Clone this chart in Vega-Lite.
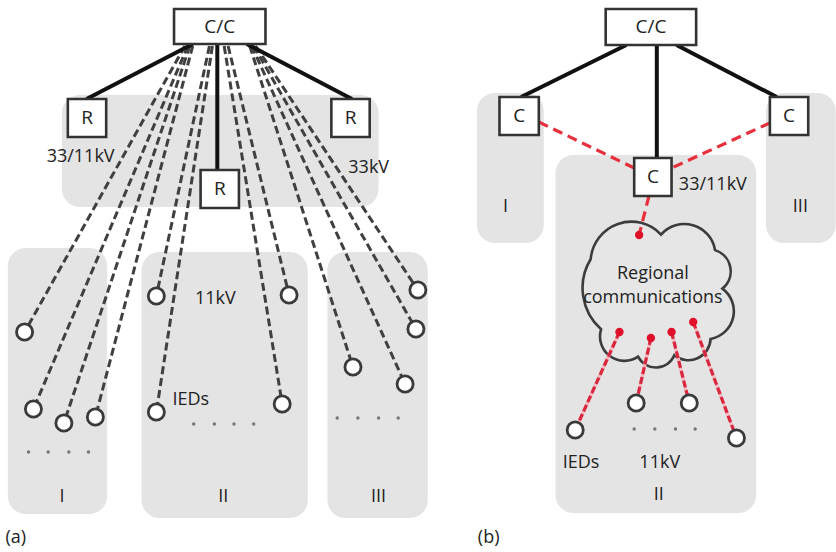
{
  "$schema": "https://vega.github.io/schema/vega-lite/v6.json",
  "width": 836,
  "height": 552,
  "padding": 0,
  "autosize": {"type": "fit", "contains": "padding"},
  "background": "white",
  "config": {"view": {"stroke": null}},
  "datasets": {
    "regions": [
      {"x": 63, "x2": 385, "y": 95, "y2": 207},
      {"x": 8, "x2": 109, "y": 248, "y2": 514},
      {"x": 144, "x2": 313, "y": 252, "y2": 518},
      {"x": 333, "x2": 435, "y": 252, "y2": 518},
      {"x": 485, "x2": 553, "y": 93, "y2": 243},
      {"x": 565, "x2": 769, "y": 155, "y2": 513},
      {"x": 779, "x2": 850, "y": 93, "y2": 243}
    ],
    "cloud": [{"x": 665.5, "y": 296}],
    "solid": [
      {"x": 196, "y": 44, "x2": 88, "y2": 99},
      {"x": 221, "y": 44, "x2": 221, "y2": 170},
      {"x": 251, "y": 44, "x2": 358, "y2": 99},
      {"x": 637, "y": 45, "x2": 530, "y2": 97},
      {"x": 668, "y": 45, "x2": 668, "y2": 158},
      {"x": 688, "y": 45, "x2": 790, "y2": 97}
    ],
    "graydash": [
      {"x": 188, "y": 46, "x2": 25, "y2": 332},
      {"x": 191, "y": 46, "x2": 34, "y2": 409},
      {"x": 193, "y": 46, "x2": 65, "y2": 423},
      {"x": 196, "y": 46, "x2": 97, "y2": 417},
      {"x": 213, "y": 46, "x2": 159, "y2": 296},
      {"x": 216, "y": 46, "x2": 159, "y2": 412},
      {"x": 228, "y": 46, "x2": 287, "y2": 404},
      {"x": 232, "y": 46, "x2": 294, "y2": 295},
      {"x": 254, "y": 46, "x2": 359, "y2": 367},
      {"x": 256, "y": 46, "x2": 412, "y2": 384},
      {"x": 258, "y": 46, "x2": 423, "y2": 329},
      {"x": 260, "y": 46, "x2": 425, "y2": 290}
    ],
    "reddash": [
      {"x": 548, "y": 122, "x2": 645, "y2": 168},
      {"x": 783, "y": 123, "x2": 683, "y2": 168},
      {"x": 660, "y": 196, "x2": 650, "y2": 235}
    ],
    "pinkdash": [
      {"x": 630, "y": 332, "x2": 585, "y2": 430},
      {"x": 662, "y": 338, "x2": 647, "y2": 403},
      {"x": 683, "y": 332, "x2": 701, "y2": 403},
      {"x": 705, "y": 322, "x2": 749, "y2": 438}
    ],
    "reddots": [
      {"x": 650, "y": 235},
      {"x": 630, "y": 332},
      {"x": 662, "y": 338},
      {"x": 683, "y": 332},
      {"x": 705, "y": 322}
    ],
    "ieds": [
      {"x": 25, "y": 332}, {"x": 34, "y": 409}, {"x": 65, "y": 423}, {"x": 97, "y": 417},
      {"x": 159, "y": 296}, {"x": 159, "y": 412}, {"x": 294, "y": 295}, {"x": 287, "y": 404},
      {"x": 359, "y": 367}, {"x": 412, "y": 384}, {"x": 423, "y": 329}, {"x": 425, "y": 290},
      {"x": 585, "y": 430}, {"x": 647, "y": 403}, {"x": 701, "y": 403}, {"x": 749, "y": 438}
    ],
    "ellipsis": [
      {"x": 29, "y": 452}, {"x": 49, "y": 452}, {"x": 70, "y": 452}, {"x": 90, "y": 452},
      {"x": 197, "y": 424}, {"x": 218, "y": 424}, {"x": 238, "y": 424}, {"x": 258, "y": 424},
      {"x": 343, "y": 418}, {"x": 364, "y": 418}, {"x": 385, "y": 418}, {"x": 405, "y": 418},
      {"x": 645, "y": 429}, {"x": 666, "y": 429}, {"x": 687, "y": 429}, {"x": 707, "y": 429}
    ],
    "boxes": [
      {"x": 177, "x2": 270, "y": 9, "y2": 44, "cx": 223.5, "cy": 27, "label": "C/C"},
      {"x": 69, "x2": 108, "y": 99, "y2": 137, "cx": 88.5, "cy": 118, "label": "R"},
      {"x": 204, "x2": 243, "y": 170, "y2": 208, "cx": 223.5, "cy": 189, "label": "R"},
      {"x": 337, "x2": 376, "y": 99, "y2": 137, "cx": 356.5, "cy": 118, "label": "R"},
      {"x": 616, "x2": 708, "y": 9, "y2": 45, "cx": 662, "cy": 27, "label": "C/C"},
      {"x": 508, "x2": 548, "y": 97, "y2": 135, "cx": 528, "cy": 116, "label": "C"},
      {"x": 645, "x2": 683, "y": 158, "y2": 196, "cx": 664, "cy": 177, "label": "C"},
      {"x": 783, "x2": 822, "y": 97, "y2": 135, "cx": 802.5, "cy": 116, "label": "C"}
    ],
    "labels": [
      {"x": 82, "y": 157, "label": "33/11kV"},
      {"x": 375, "y": 168, "label": "33kV"},
      {"x": 219, "y": 299, "label": "11kV"},
      {"x": 194, "y": 400, "label": "IEDs"},
      {"x": 63, "y": 497, "label": "I"},
      {"x": 227, "y": 497, "label": "II"},
      {"x": 385, "y": 497, "label": "III"},
      {"x": 16, "y": 538, "label": "(a)"},
      {"x": 725, "y": 185, "label": "33/11kV"},
      {"x": 514, "y": 207, "label": "I"},
      {"x": 814, "y": 207, "label": "III"},
      {"x": 664, "y": 274, "label": "Regional"},
      {"x": 664, "y": 298, "label": "communications"},
      {"x": 591, "y": 463, "label": "IEDs"},
      {"x": 671, "y": 463, "label": "11kV"},
      {"x": 670, "y": 495, "label": "II"},
      {"x": 497, "y": 538, "label": "(b)"}
    ]
  },
  "encoding": {
    "x": {"field": "x", "type": "quantitative", "scale": {"domain": [0, 836], "nice": false, "zero": false}, "axis": null},
    "y": {"field": "y", "type": "quantitative", "scale": {"domain": [0, 552], "nice": false, "zero": false, "reverse": true}, "axis": null}
  },
  "layer": [
    {
      "data": {"name": "regions"},
      "mark": {"type": "rect", "fill": "#e4e4e4", "cornerRadius": 18},
      "encoding": {"x2": {"field": "x2"}, "y2": {"field": "y2"}}
    },
    {
      "data": {"name": "cloud"},
      "mark": {
        "type": "point",
        "shape": "M -0.86 -0.5 A 0.55 0.55 0 0 1 0.09 -0.83 A 0.42 0.42 0 0 1 0.82 -0.62 A 0.3 0.3 0 0 1 0.92 -0.1 A 0.38 0.38 0 0 1 0.76 0.58 A 0.3 0.3 0 0 1 0.27 0.8 A 0.27 0.27 0 0 1 -0.22 0.82 A 0.33 0.33 0 0 1 -0.72 0.45 A 0.75 0.75 0 0 1 -0.86 -0.5 Z",
        "size": 21904,
        "filled": true,
        "fill": "#e6e6e6",
        "stroke": "#3c3c3c",
        "strokeWidth": 2.6,
        "opacity": 1
      }
    },
    {
      "data": {"name": "graydash"},
      "mark": {"type": "rule", "color": "#404040", "strokeWidth": 3, "strokeDash": [8, 4]},
      "encoding": {"x2": {"field": "x2"}, "y2": {"field": "y2"}}
    },
    {
      "data": {"name": "solid"},
      "mark": {"type": "rule", "color": "#111111", "strokeWidth": 4},
      "encoding": {"x2": {"field": "x2"}, "y2": {"field": "y2"}}
    },
    {
      "data": {"name": "reddash"},
      "mark": {"type": "rule", "color": "#e8303c", "strokeWidth": 3.2, "strokeDash": [10, 6]},
      "encoding": {"x2": {"field": "x2"}, "y2": {"field": "y2"}}
    },
    {
      "data": {"name": "pinkdash"},
      "mark": {"type": "rule", "color": "#f4b8bf", "strokeWidth": 3.4},
      "encoding": {"x2": {"field": "x2"}, "y2": {"field": "y2"}}
    },
    {
      "data": {"name": "pinkdash"},
      "mark": {"type": "rule", "color": "#d8283f", "strokeWidth": 3.2, "strokeDash": [7, 3]},
      "encoding": {"x2": {"field": "x2"}, "y2": {"field": "y2"}}
    },
    {
      "data": {"name": "reddots"},
      "mark": {"type": "point", "shape": "circle", "filled": true, "color": "#e0102a", "size": 70, "opacity": 1}
    },
    {
      "data": {"name": "ieds"},
      "mark": {"type": "point", "shape": "circle", "filled": true, "fill": "white", "stroke": "#3a3a3a", "strokeWidth": 2.8, "size": 260, "opacity": 1}
    },
    {
      "data": {"name": "ellipsis"},
      "mark": {"type": "point", "shape": "circle", "filled": true, "color": "#777777", "size": 12, "opacity": 1}
    },
    {
      "data": {"name": "boxes"},
      "mark": {"type": "rect", "fill": "white", "stroke": "#333333", "strokeWidth": 2.6},
      "encoding": {"x2": {"field": "x2"}, "y2": {"field": "y2"}}
    },
    {
      "data": {"name": "boxes"},
      "mark": {"type": "text", "font": "Open Sans", "fontSize": 19, "color": "#222222", "align": "center", "baseline": "middle"},
      "encoding": {"x": {"field": "cx", "type": "quantitative"}, "y": {"field": "cy", "type": "quantitative"}, "text": {"field": "label"}}
    },
    {
      "data": {"name": "labels"},
      "mark": {"type": "text", "font": "Open Sans", "fontSize": 18, "color": "#222222", "align": "center", "baseline": "middle"},
      "encoding": {"text": {"field": "label"}}
    }
  ]
}
